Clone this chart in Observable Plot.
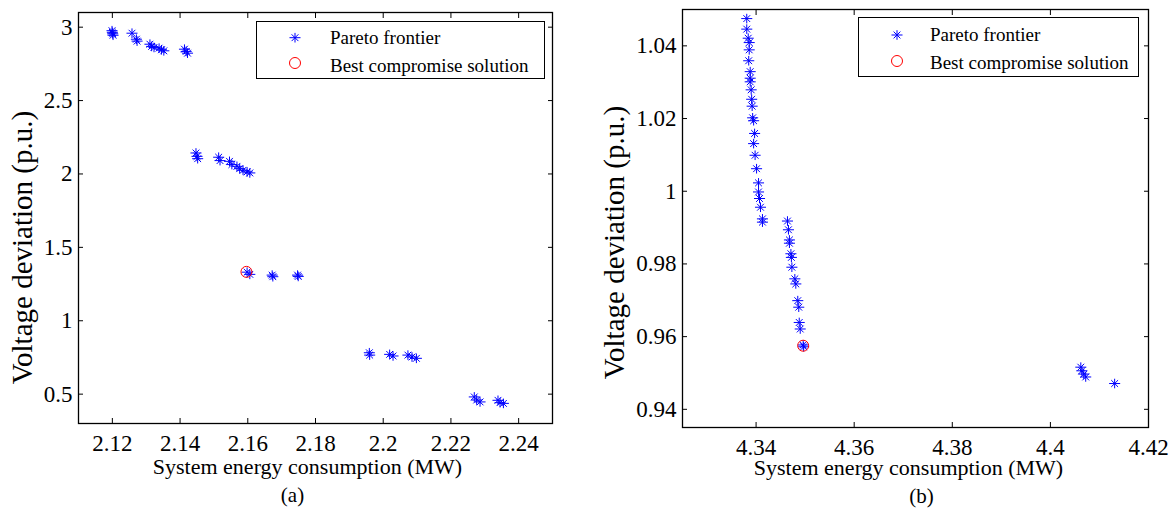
<!DOCTYPE html>
<html>
<head>
<meta charset="utf-8">
<script src="https://cdn.jsdelivr.net/npm/d3@7"></script>
<script src="https://cdn.jsdelivr.net/npm/@observablehq/plot@0.6"></script>
<style>
  html, body { margin: 0; padding: 0; background: #fff; }
  #wrap { position: relative; width: 1175px; height: 517px; background: #fff; overflow: hidden;
          font-family: "Liberation Serif", "Times New Roman", serif; color: #000; }
  .panel { position: absolute; top: 0; }
  #wrap svg text { font-family: "Liberation Serif", "Times New Roman", serif; }
  #wrap g[aria-label$="tick label"] { font-size: 23px; font-variant: normal; }
  .legend { position: absolute; background: #fff; border: 1.3px solid #000; box-sizing: border-box; }
  .legend svg { position: absolute; left: 0; top: 0; overflow: visible; }
</style>
</head>
<body>
<div id="wrap"></div>
<script>
// ---------- Data (a) ----------
const energyA = [
  2.1199, 2.1200, 2.1201, 2.1202,
  2.1258, 2.1271, 2.1273,
  2.1311, 2.1316, 2.1323, 2.1338, 2.1345, 2.1352,
  2.1413, 2.1418, 2.1422,
  2.1447, 2.1450, 2.1452,
  2.1514, 2.1518,
  2.1546, 2.1553,
  2.1568, 2.1576, 2.1586, 2.1598, 2.1606,
  2.1598, 2.1606,
  2.1672, 2.1674,
  2.1747, 2.1749,
  2.1959, 2.1960,
  2.2019, 2.2029,
  2.2073, 2.2085, 2.2098,
  2.2269, 2.2276, 2.2286,
  2.2339, 2.2345, 2.2355
];
const voltageA = [
  2.976, 2.965, 2.955, 2.945,
  2.959, 2.918, 2.905,
  2.884, 2.869, 2.862, 2.857, 2.846, 2.839,
  2.850, 2.835, 2.823,
  2.143, 2.120, 2.104,
  2.114, 2.091,
  2.086, 2.064,
  2.052, 2.036, 2.025, 2.014, 2.007,
  1.331, 1.316,
  1.311, 1.300,
  1.311, 1.302,
  0.782, 0.766,
  0.771, 0.760,
  0.766, 0.753, 0.744,
  0.481, 0.460, 0.447,
  0.458, 0.442, 0.437
];
const bestA = {energy: 2.1596, voltage: 1.333};
const xTicksA = [2.12, 2.14, 2.16, 2.18, 2.2, 2.22, 2.24];
const yTicksA = [0.5, 1, 1.5, 2, 2.5, 3];

// ---------- Data (b) ----------
const energyB = [
  4.3381, 4.3381, 4.3384, 4.3386, 4.3386, 4.3385, 4.3388, 4.3388, 4.3388,
  4.3390, 4.3391, 4.3392, 4.3393, 4.3395, 4.3397, 4.3395, 4.3398, 4.3401,
  4.3405, 4.3405, 4.3407, 4.3409, 4.3413, 4.3413,
  4.3464, 4.3466, 4.3468, 4.3468, 4.3471, 4.3472, 4.3473, 4.3479, 4.3481,
  4.3485, 4.3487, 4.3488, 4.3490, 4.3496, 4.3497,
  4.4062, 4.4064, 4.4068, 4.4072,
  4.4131
];
const voltageB = [
  1.0475, 1.0446, 1.0421, 1.0409, 1.0389, 1.0359, 1.0329, 1.0311, 1.0301,
  1.0279, 1.0253, 1.0234, 1.0202, 1.0194, 1.0159, 1.0131, 1.0099, 1.0062,
  1.0023, 0.9998, 0.9980, 0.9956, 0.9924, 0.9915,
  0.9918, 0.9894, 0.9866, 0.9857, 0.9828, 0.9818, 0.9791, 0.9759, 0.9745,
  0.9699, 0.9681, 0.9639, 0.9621, 0.9577, 0.9572,
  0.9516, 0.9506, 0.9497, 0.9489,
  0.9471
];
const bestB = {energy: 4.3496, voltage: 0.9575};
const xTicksB = [4.34, 4.36, 4.38, 4.4, 4.42];
const yTicksB = [0.94, 0.96, 0.98, 1, 1.02, 1.04];

const seriesNames = ["Pareto frontier", "Best compromise solution"];
const xLabel = "System energy consumption (MW)";
const yLabel = "Voltage deviation (p.u.)";

// MATLAB-like '*' marker
const star = {
  draw(ctx, size) {
    const r = Math.sqrt(size / Math.PI);
    const d = r * 0.7071;
    ctx.moveTo(0, -r); ctx.lineTo(0, r);
    ctx.moveTo(-r * 1.15, 0); ctx.lineTo(r * 1.15, 0);
    ctx.moveTo(-d, -d); ctx.lineTo(d, d);
    ctx.moveTo(-d, d); ctx.lineTo(d, -d);
  }
};

const FONT = "'Liberation Serif', 'Times New Roman', serif";
const fmt = d => String(d);

function panel(cfg) {
  const pts = cfg.energy.map((e, i) => ({energy: e, voltage: cfg.voltage[i]}));
  return Plot.plot({
    width: cfg.width, height: 517,
    marginLeft: cfg.ml, marginRight: cfg.mr, marginTop: cfg.mt, marginBottom: cfg.mb,
    style: {fontFamily: FONT, fontSize: "23px", color: "#000", background: "transparent", overflow: "visible"},
    x: {domain: cfg.xDomain, nice: false, label: null},
    y: {domain: cfg.yDomain, nice: false, label: null},
    marks: [
      Plot.dot(pts, {x: "energy", y: "voltage", symbol: star, r: 4.8, fill: "none", stroke: "#0000ff", strokeWidth: 1}),
      Plot.dot([cfg.best], {x: "energy", y: "voltage", r: 5.5, fill: "none", stroke: "#ff0000", strokeWidth: 1}),
      // tick labels
      Plot.axisX(cfg.xTicks, {tickSize: 0, tickPadding: 11, tickFormat: fmt, fontSize: 23, label: null}),
      Plot.axisY(cfg.yTicks, {tickSize: 0, tickPadding: 6, tickFormat: fmt, fontSize: 23, label: null}),
      // inward ticks on all four sides
      Plot.axisX(cfg.xTicks, {anchor: "bottom", tickSize: -5, tickFormat: () => "", label: null}),
      Plot.axisX(cfg.xTicks, {anchor: "top", tickSize: -5, tickFormat: () => "", label: null}),
      Plot.axisY(cfg.yTicks, {anchor: "left", tickSize: -5, tickFormat: () => "", label: null}),
      Plot.axisY(cfg.yTicks, {anchor: "right", tickSize: -5, tickFormat: () => "", label: null}),
      Plot.frame({stroke: "#000", strokeWidth: 1.3}),
      Plot.text([xLabel], {text: d => d, frameAnchor: "bottom", textAnchor: "middle", dx: cfg.xlDx, dy: cfg.xlDy, fontSize: 22, fill: "#000"}),
      Plot.text([yLabel], {text: d => d, frameAnchor: "left", textAnchor: "middle", rotate: -90, dx: cfg.ylDx, dy: cfg.ylDy, fontSize: 29, fill: "#000"}),
      Plot.text([cfg.tag], {text: d => d, frameAnchor: "bottom", textAnchor: "middle", dx: cfg.tagDx, dy: cfg.tagDy, fontSize: 21, fill: "#000"})
    ]
  });
}

function legend(box) {
  const div = document.createElement("div");
  div.className = "legend";
  Object.assign(div.style, {left: box.left + "px", top: box.top + "px", width: box.w + "px", height: box.h + "px"});
  const ns = "http://www.w3.org/2000/svg";
  const svg = document.createElementNS(ns, "svg");
  svg.setAttribute("width", box.w); svg.setAttribute("height", box.h);
  const r = 4.8, d = r * 0.7071, h = r * 1.15;
  const sx = box.mx, sy = box.row1;
  const p = document.createElementNS(ns, "path");
  p.setAttribute("d", `M${sx},${sy - r}V${sy + r}M${sx - h},${sy}H${sx + h}M${sx - d},${sy - d}L${sx + d},${sy + d}M${sx - d},${sy + d}L${sx + d},${sy - d}`);
  p.setAttribute("stroke", "#0000ff"); p.setAttribute("fill", "none"); p.setAttribute("stroke-width", 1);
  svg.appendChild(p);
  const c = document.createElementNS(ns, "circle");
  c.setAttribute("cx", box.mx); c.setAttribute("cy", box.row2); c.setAttribute("r", 5.5);
  c.setAttribute("stroke", "#ff0000"); c.setAttribute("fill", "none"); c.setAttribute("stroke-width", 1);
  svg.appendChild(c);
  [[seriesNames[0], box.b1], [seriesNames[1], box.b2]].forEach(([t, b]) => {
    const tx = document.createElementNS(ns, "text");
    tx.setAttribute("x", box.tx); tx.setAttribute("y", b);
    tx.setAttribute("font-family", FONT); tx.setAttribute("font-size", 19); tx.setAttribute("fill", "#000");
    tx.textContent = t;
    svg.appendChild(tx);
  });
  div.appendChild(svg);
  return div;
}

const wrap = document.getElementById("wrap");

const pa = panel({
  energy: energyA, voltage: voltageA, best: bestA,
  width: 600, ml: 78, mr: 48, mt: 12, mb: 94,
  xDomain: [2.11, 2.25], yDomain: [0.3, 3.1],
  xTicks: xTicksA, yTicks: yTicksA,
  xlDx: -8, xlDy: 50, ylDx: -55.5, ylDy: 29.5, tag: "(a)", tagDx: -23, tagDy: 78.3
});
const da = document.createElement("div"); da.className = "panel"; da.style.left = "0px"; da.appendChild(pa);
wrap.appendChild(da);

const pb = panel({
  energy: energyB, voltage: voltageB, best: bestB,
  width: 575, ml: 82, mr: 27, mt: 9, mb: 90,
  xDomain: [4.325, 4.42], yDomain: [0.935, 1.05],
  xTicks: xTicksB, yTicks: yTicksB,
  xlDx: -7, xlDy: 47.7, ylDx: -68, ylDy: 24, tag: "(b)", tagDx: 6, tagDy: 75.3
});
const db = document.createElement("div"); db.className = "panel"; db.style.left = "600px"; db.appendChild(pb);
wrap.appendChild(db);

wrap.appendChild(legend({left: 256, top: 21, w: 289, h: 58, mx: 38, row1: 15.7, row2: 41, tx: 73, b1: 22.3, b2: 49.7}));
wrap.appendChild(legend({left: 858, top: 17, w: 281, h: 60, mx: 38, row1: 17, row2: 43, tx: 71, b1: 23, b2: 51.3}));
</script>
</body>
</html>
